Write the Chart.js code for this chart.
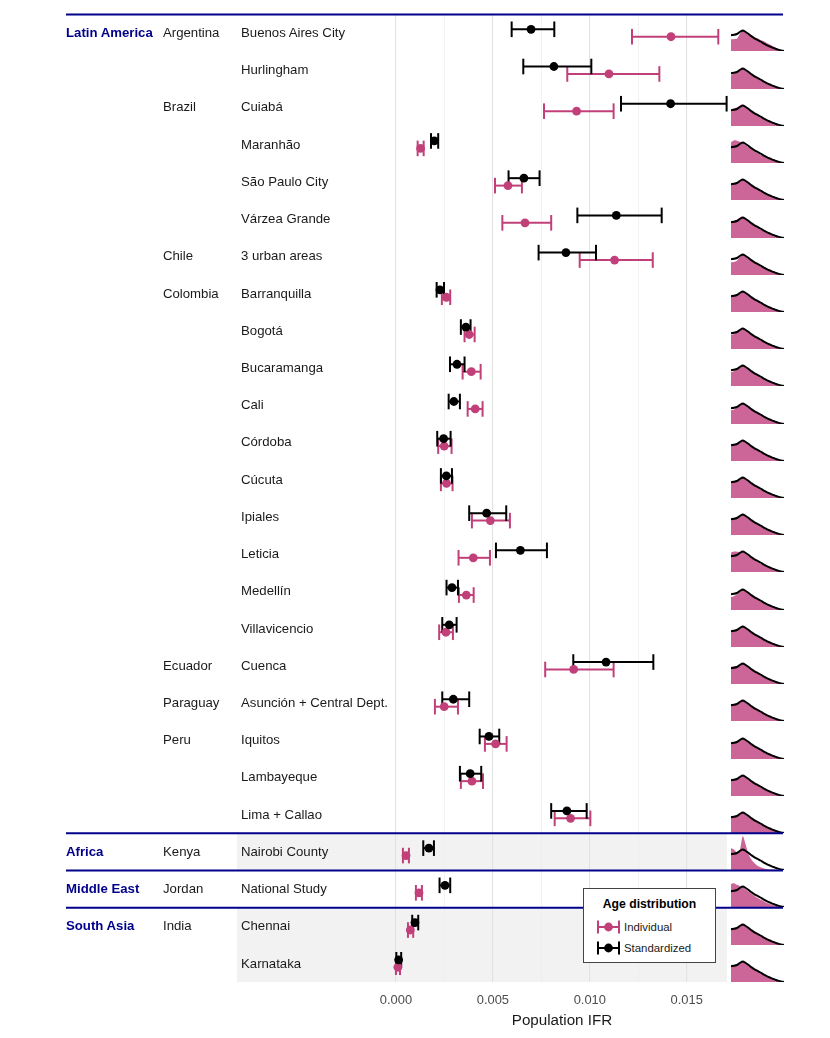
<!DOCTYPE html>
<html>
<head>
<meta charset="utf-8">
<title>Population IFR</title>
<script src="https://cdn.jsdelivr.net/npm/chart.js@4.4.1/dist/chart.umd.min.js"></script>
<style>
  html, body { margin: 0; padding: 0; background: #fff; }
  #page { position: relative; width: 830px; height: 1038px; overflow: hidden; font-family: 'Liberation Sans', Arial, sans-serif; }
  #main { position: absolute; left: 0; top: 0; z-index: 2; }
  .dens { position: absolute; left: 731px; z-index: 1; }
  .lbl { position: absolute; z-index: 3; font-size: 13.2px; color: #1a1a1a; white-space: nowrap; transform: translateY(-50%); line-height: 1; }
  .region { font-weight: bold; color: #00008B; }
  #xtitle { position: absolute; left: 562px; top: 1019px; transform: translate(-50%, -50%); font-size: 15.2px; color: #1a1a1a; z-index: 3; }
  #legend { position: absolute; left: 583px; top: 888px; width: 133px; height: 75px; box-sizing: border-box; border: 1px solid #444; background: #fff; z-index: 4; }
  #legend .ltitle { position: absolute; left: 0; width: 131px; top: 15px; transform: translateY(-50%); text-align: center; font-weight: bold; font-size: 12.2px; color: #000; }
  #legend .litem { position: absolute; left: 13px; transform: translateY(-50%); display: flex; align-items: center; font-size: 11.4px; color: #1a1a1a; }
  #legend svg { margin-right: 4px; }
</style>
</head>
<body>
<div id="page">
  <canvas id="main" width="830" height="1038"></canvas>
  <div id="xtitle">Population IFR</div>
  <div id="legend">
    <div class="ltitle">Age distribution</div>
    <div class="litem" style="top:38px">
      <svg width="23" height="16"><line x1="1" y1="8" x2="22" y2="8" stroke="#c1407a" stroke-width="2"/><line x1="1" y1="1.5" x2="1" y2="14.5" stroke="#c1407a" stroke-width="2"/><line x1="22" y1="1.5" x2="22" y2="14.5" stroke="#c1407a" stroke-width="2"/><circle cx="11.5" cy="8" r="4.4" fill="#c1407a"/></svg><span>Individual</span>
    </div>
    <div class="litem" style="top:59px">
      <svg width="23" height="16"><line x1="1" y1="8" x2="22" y2="8" stroke="#000" stroke-width="2"/><line x1="1" y1="1.5" x2="1" y2="14.5" stroke="#000" stroke-width="2"/><line x1="22" y1="1.5" x2="22" y2="14.5" stroke="#000" stroke-width="2"/><circle cx="11.5" cy="8" r="4.4" fill="#000"/></svg><span>Standardized</span>
    </div>
  </div>
</div>
<script>
const regions = ['Latin America','Latin America','Latin America','Latin America','Latin America','Latin America',
  'Latin America','Latin America','Latin America','Latin America','Latin America','Latin America','Latin America',
  'Latin America','Latin America','Latin America','Latin America','Latin America','Latin America','Latin America',
  'Latin America','Latin America','Africa','Middle East','South Asia','South Asia'];
const countries = ['Argentina','Argentina','Brazil','Brazil','Brazil','Brazil','Chile',
  'Colombia','Colombia','Colombia','Colombia','Colombia','Colombia','Colombia','Colombia','Colombia','Colombia',
  'Ecuador','Paraguay','Peru','Peru','Peru','Kenya','Jordan','India','India'];
const locations = ['Buenos Aires City','Hurlingham','Cuiabá','Maranhão','São Paulo City','Várzea Grande',
  '3 urban areas','Barranquilla','Bogotá','Bucaramanga','Cali','Córdoba','Cúcuta','Ipiales','Leticia',
  'Medellín','Villavicencio','Cuenca','Asunción + Central Dept.','Iquitos','Lambayeque','Lima + Callao',
  'Nairobi County','National Study','Chennai','Karnataka'];

// Standardized age distribution (black)
const stdMid = [0.00697,0.00815,0.01417,0.00198,0.00660,0.01137,0.00877,0.00227,0.00361,0.00315,0.00299,0.00246,0.00260,
  0.00468,0.00642,0.00289,0.00275,0.01084,0.00296,0.00480,0.00383,0.00882,0.00170,0.00253,0.00098,0.00014];
const stdLo = [0.00597,0.00657,0.01161,0.00181,0.00581,0.00936,0.00736,0.00210,0.00335,0.00279,0.00272,0.00213,0.00232,
  0.00378,0.00516,0.00261,0.00239,0.00915,0.00239,0.00432,0.00330,0.00801,0.00141,0.00225,0.00084,0.00002];
const stdHi = [0.00817,0.01008,0.01706,0.00218,0.00741,0.01371,0.01032,0.00248,0.00385,0.00354,0.00330,0.00282,0.00289,
  0.00569,0.00779,0.00320,0.00313,0.01328,0.00378,0.00533,0.00440,0.00984,0.00196,0.00280,0.00115,0.00027];

// Individual age distribution (pink)
const indMid = [0.01419,0.01099,0.00932,0.00127,0.00578,0.00666,0.01128,0.00260,0.00378,0.00389,0.00409,0.00249,0.00261,
  0.00487,0.00399,0.00363,0.00258,0.00917,0.00249,0.00514,0.00392,0.00901,0.00052,0.00119,0.00074,0.00010];
const indLo = [0.01218,0.00884,0.00764,0.00112,0.00511,0.00549,0.00948,0.00237,0.00354,0.00344,0.00370,0.00218,0.00232,
  0.00392,0.00323,0.00325,0.00223,0.00770,0.00201,0.00459,0.00335,0.00819,0.00036,0.00103,0.00062,0.00000];
const indHi = [0.01663,0.01359,0.01123,0.00143,0.00650,0.00801,0.01325,0.00280,0.00406,0.00437,0.00447,0.00287,0.00292,
  0.00588,0.00485,0.00401,0.00294,0.01123,0.00320,0.00571,0.00449,0.01003,0.00067,0.00134,0.00089,0.00021];

const gridVals = [0, 0.0025, 0.005, 0.0075, 0.01, 0.0125, 0.015];
const majorTicks = [0, 0.005, 0.01, 0.015];
const tickLabels = ['0.000', '0.005', '0.010', '0.015'];

// age distributions (% of population per 5-year band)
const ageBins = [0,5,10,15,20,25,30,35,40,45,50,55,60,65,70,75,80,85,90];
const stdAgeDist = [8.0,8.2,8.6,9.6,10.4,9.6,8.6,7.4,6.4,5.6,4.8,3.9,3.1,2.4,1.7,1.2,0.7,0.3,0.05];
const indAgeDist = [
  [6.0,6.0,6.2,8.6,10.2,9.6,8.8,7.9,7.0,6.3,5.6,5.0,4.2,3.4,2.6,1.9,1.2,0.6,0.2],
  [7.3,7.7,8.4,9.5,10.4,9.6,8.7,7.5,6.5,5.7,4.9,4.0,3.2,2.5,1.8,1.3,0.8,0.4,0.1],
  [8.4,8.8,9.3,10.2,10.8,9.8,8.6,7.4,6.3,5.5,4.6,3.8,2.9,2.1,1.5,1.0,0.6,0.3,0.1],
  [10.6,11.4,11.3,10.7,10.0,9.0,7.9,6.8,5.8,5.0,4.2,3.5,2.7,2.1,1.5,1.0,0.6,0.3,0.1],
  [7.9,8.1,8.5,9.5,10.4,9.7,8.7,7.5,6.5,5.7,4.9,4.0,3.2,2.4,1.7,1.2,0.7,0.35,0.1],
  [8.2,8.7,9.2,10.2,10.8,9.9,8.6,7.2,6.1,5.3,4.5,3.6,2.8,2.1,1.5,1.0,0.6,0.3,0.1],
  [6.4,6.6,7.2,9.0,10.2,9.6,8.7,7.7,6.7,5.9,5.1,4.3,3.4,2.6,1.9,1.3,0.8,0.4,0.1],
  [7.9,8.2,8.6,9.6,10.4,9.6,8.6,7.4,6.4,5.6,4.8,3.9,3.1,2.4,1.7,1.2,0.7,0.3,0.1],
  [7.2,7.6,8.3,9.4,10.3,9.6,8.7,7.6,6.6,5.8,5.0,4.1,3.2,2.4,1.7,1.2,0.7,0.3,0.1],
  [7.0,7.4,8.2,9.4,10.3,9.7,8.7,7.6,6.6,5.8,5.0,4.1,3.2,2.5,1.8,1.2,0.7,0.35,0.1],
  [6.9,7.3,8.1,9.3,10.2,9.7,8.8,7.8,6.9,6.0,5.1,4.2,3.3,2.5,1.8,1.2,0.7,0.35,0.1],
  [8.0,8.3,8.7,9.7,10.5,9.6,8.6,7.4,6.4,5.6,4.8,3.9,3.1,2.3,1.7,1.1,0.7,0.3,0.1],
  [8.1,8.4,8.8,9.7,10.5,9.7,8.6,7.4,6.4,5.5,4.7,3.9,3.0,2.3,1.6,1.1,0.6,0.3,0.1],
  [7.9,8.2,8.6,9.6,10.4,9.6,8.6,7.4,6.4,5.6,4.8,3.9,3.1,2.4,1.7,1.2,0.7,0.35,0.1],
  [9.8,10.3,10.2,10.1,10.0,9.1,8.0,6.9,5.9,5.1,4.3,3.6,2.8,2.1,1.5,1.0,0.6,0.3,0.1],
  [6.6,7.0,7.8,9.2,10.3,9.8,8.9,7.9,6.9,6.0,5.1,4.2,3.3,2.5,1.8,1.2,0.7,0.35,0.1],
  [8.0,8.3,8.7,9.7,10.4,9.6,8.6,7.4,6.4,5.6,4.8,3.9,3.1,2.3,1.7,1.1,0.6,0.3,0.1],
  [8.6,9.0,9.1,9.8,10.4,9.6,8.5,7.3,6.3,5.5,4.7,3.8,3.0,2.3,1.6,1.1,0.7,0.3,0.1],
  [8.1,8.3,8.7,9.7,10.4,9.6,8.6,7.4,6.4,5.6,4.8,3.9,3.0,2.3,1.6,1.1,0.6,0.3,0.1],
  [8.2,8.5,8.9,9.8,10.5,9.6,8.5,7.3,6.3,5.5,4.7,3.8,3.0,2.3,1.6,1.1,0.6,0.3,0.1],
  [7.9,8.2,8.7,9.6,10.3,9.6,8.6,7.4,6.4,5.7,4.9,4.0,3.2,2.4,1.7,1.2,0.7,0.35,0.1],
  [7.8,8.1,8.6,9.6,10.4,9.6,8.6,7.5,6.5,5.7,4.9,4.0,3.2,2.4,1.7,1.2,0.7,0.35,0.1],
  [11.0,10.4,8.9,10.2,17.0,12.8,7.8,5.2,3.4,2.2,1.4,0.9,0.5,0.3,0.2,0.1,0.05,0,0],
  [11.6,12.0,11.2,10.6,10.0,8.9,7.8,6.6,5.5,4.6,3.8,3.0,2.2,1.6,1.1,0.7,0.4,0.2,0.05],
  [7.8,8.1,8.6,9.6,10.5,9.7,8.6,7.5,6.5,5.7,4.9,4.0,3.1,2.3,1.6,1.1,0.6,0.3,0.1],
  [8.3,8.6,8.9,9.7,10.5,9.6,8.5,7.4,6.4,5.6,4.8,3.9,3.0,2.3,1.6,1.1,0.6,0.3,0.1]
];

const PINK = '#c1407a';
const BLACK = '#000000';
const BLUE = '#00008B';
const DODGE = 0.1;

Chart.defaults.font.family = "'Liberation Sans', Arial, sans-serif";
Chart.defaults.animation = false;

const rowIdx = locations.map((_, i) => i);

// region groups, alternate groups get a grey band
const regionStarts = rowIdx.filter(i => i === 0 || regions[i] !== regions[i - 1]);

function whiskers(lo, hi, color, shift, order) {
  return rowIdx.map(i => ({
    data: [{ x: lo[i], y: i + shift }, { x: hi[i], y: i + shift }],
    showLine: true,
    borderColor: color,
    borderWidth: 2,
    pointStyle: 'line',
    pointRotation: 90,
    pointRadius: 7.8,
    pointHoverRadius: 7.8,
    pointBorderColor: color,
    pointBorderWidth: 2,
    order: order,
    clip: false
  }));
}

function dots(mid, color, shift, order) {
  return {
    data: rowIdx.map(i => ({ x: mid[i], y: i + shift })),
    pointRadius: 4.4,
    pointHoverRadius: 4.4,
    pointBackgroundColor: color,
    pointBorderWidth: 0,
    order: order,
    clip: false
  };
}

const bandsPlugin = {
  id: 'bands',
  beforeDraw(chart) {
    const { ctx, chartArea, scales } = chart;
    ctx.save();
    ctx.fillStyle = '#f2f2f2';
    regionStarts.forEach((start, g) => {
      if (g % 2 === 0) return;
      let end = start;
      while (end + 1 < regions.length && regions[end + 1] === regions[start]) end++;
      const y0 = scales.y.getPixelForValue(start - 0.5);
      const y1 = scales.y.getPixelForValue(end + 0.5);
      ctx.fillRect(chartArea.left, y0, chartArea.right - chartArea.left, y1 - y0);
    });
    ctx.restore();
  }
};

const separatorPlugin = {
  id: 'separators',
  afterDraw(chart) {
    const { ctx, scales } = chart;
    ctx.save();
    ctx.strokeStyle = BLUE;
    ctx.lineWidth = 2;
    regionStarts.forEach(start => {
      const y = scales.y.getPixelForValue(start - 0.5);
      ctx.beginPath();
      ctx.moveTo(66, y);
      ctx.lineTo(783, y);
      ctx.stroke();
    });
    ctx.restore();
  }
};

const chart = new Chart(document.getElementById('main'), {
  type: 'scatter',
  data: {
    datasets: [
      ...whiskers(indLo, indHi, PINK, DODGE, 4),
      ...whiskers(stdLo, stdHi, BLACK, -DODGE, 3),
      dots(indMid, PINK, DODGE, 2),
      dots(stdMid, BLACK, -DODGE, 1)
    ]
  },
  options: {
    responsive: false,
    events: [],
    layout: { padding: { left: 237, right: 103, top: 14.4, bottom: 18.4 } },
    plugins: { legend: { display: false }, tooltip: { enabled: false } },
    scales: {
      x: {
        type: 'linear',
        min: -0.0082,
        max: 0.01708,
        afterBuildTicks: scale => { scale.ticks = gridVals.map(v => ({ value: v })); },
        border: { display: false },
        grid: {
          drawTicks: false,
          color: ctx => majorTicks.includes(ctx.tick.value) ? '#e2e2e2' : '#ededed',
          lineWidth: ctx => majorTicks.includes(ctx.tick.value) ? 1.1 : 0.7
        },
        ticks: {
          autoSkip: false,
          maxRotation: 0,
          padding: 11,
          color: '#4d4d4d',
          font: { size: 12.9 },
          callback: value => {
            const k = majorTicks.indexOf(value);
            return k >= 0 ? tickLabels[k] : '';
          }
        }
      },
      y: {
        type: 'linear',
        display: false,
        reverse: true,
        min: -0.5,
        max: locations.length - 0.5
      }
    }
  },
  plugins: [bandsPlugin, separatorPlugin]
});

// row labels and the small age-distribution charts
const page = document.getElementById('page');
const yScale = chart.scales.y;

function addLabel(text, x, y, cls) {
  const d = document.createElement('div');
  d.className = 'lbl' + (cls ? ' ' + cls : '');
  d.style.left = x + 'px';
  d.style.top = y + 'px';
  d.textContent = text;
  page.appendChild(d);
}

rowIdx.forEach(i => {
  const y = yScale.getPixelForValue(i);
  if (i === 0 || regions[i] !== regions[i - 1]) addLabel(regions[i], 66, y, 'region');
  if (i === 0 || countries[i] !== countries[i - 1]) addLabel(countries[i], 163, y);
  addLabel(locations[i], 241, y);

  const top = yScale.getPixelForValue(i - 0.5);
  const h = yScale.getPixelForValue(i + 0.5) - top;
  const c = document.createElement('canvas');
  c.className = 'dens';
  c.width = 53;
  c.height = Math.round(h);
  c.style.top = Math.round(top) + 'px';
  page.appendChild(c);
  new Chart(c, {
    type: 'line',
    data: {
      labels: ageBins,
      datasets: [
        { data: indAgeDist[i], fill: 'origin', backgroundColor: '#cc6699', borderWidth: 0, pointRadius: 0, tension: 0.3, order: 2 },
        { data: stdAgeDist, fill: false, borderColor: '#000', borderWidth: 2, pointRadius: 0, tension: 0.3, order: 1 }
      ]
    },
    options: {
      responsive: false,
      events: [],
      layout: { padding: 0 },
      plugins: { legend: { display: false }, tooltip: { enabled: false } },
      scales: {
        x: { display: false },
        y: { display: false, min: 0, max: 18.7 }
      }
    }
  });
});
</script>
</body>
</html>
